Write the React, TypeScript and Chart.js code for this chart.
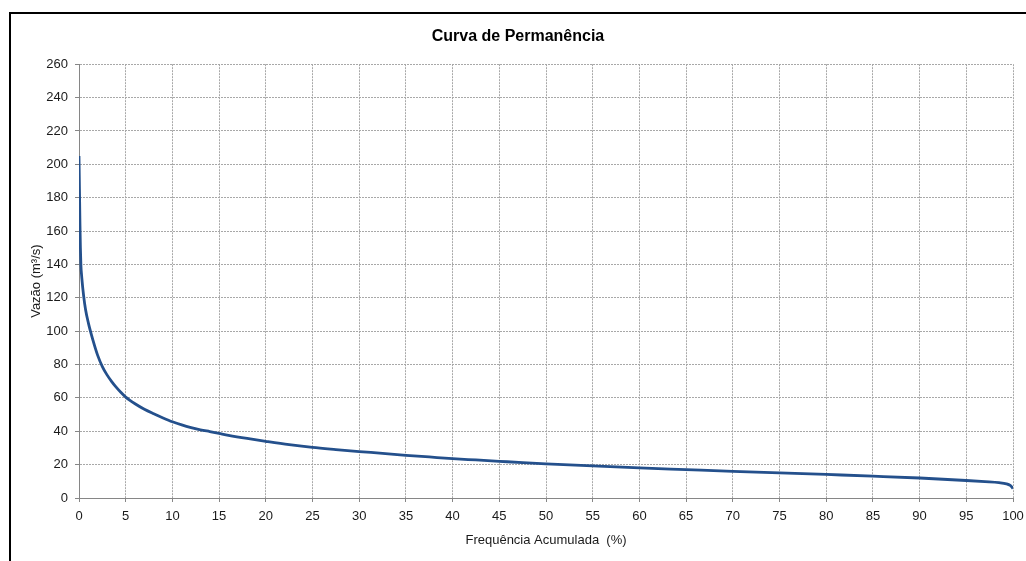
import React, { useEffect, useRef } from "react";
import { Chart, registerables } from "chart.js";

Chart.register(...registerables);

const chartTitle = "Curva de Permanência";
const xAxisTitle = "Frequência Acumulada  (%)";
const yAxisTitle = "Vazão (m³/s)";

// Frequência acumulada (%)
const freqPct = [
  0, 0.05, 0.1, 0.15, 0.2, 0.3, 0.5, 0.7, 1.0, 1.5, 2.0, 2.5, 3.0, 3.5, 4.0, 4.5,
  5.0, 6.0, 7.0, 8.0, 9.0, 10, 11, 12, 13, 14, 15, 16, 18, 20, 22.5, 25, 27.5,
  30, 32.5, 35, 37.5, 40, 42.5, 45, 47.5, 50, 55, 60, 65, 70, 75, 80, 85, 90,
  95, 97, 98.5, 99.3, 99.7, 100,
];

// Vazão (m³/s)
const flowValues = [
  205, 185, 165, 150, 140, 132, 121, 113, 105, 94.5, 85.5, 78.8, 73.8, 69.8, 66.3, 63.2,
  60.5, 56.5, 53.2, 50.5, 48, 45.7, 43.8, 42.2, 40.9, 39.8, 38.7, 37.6, 35.7, 34, 32,
  30.3, 29, 27.8, 26.8, 25.6, 24.6, 23.6, 22.8, 22, 21.2, 20.5, 19.2, 18, 17,
  16, 15.1, 14.1, 13.1, 12, 10.5, 9.8, 9.2, 8.5, 7.5, 5.7,
];

const FONT = "Arial, 'Liberation Sans', sans-serif";

export default function App() {
  const canvasRef = useRef<HTMLCanvasElement | null>(null);

  useEffect(() => {
    if (!canvasRef.current) return;
    const points = freqPct.map((x, i) => ({ x, y: flowValues[i] }));
    const gridColor = "#a8a8a8";
    const axisColor = "#868686";
    const chart = new Chart(canvasRef.current, {
      type: "line",
      data: {
        datasets: [
          {
            data: points,
            borderColor: "#24508c",
            borderWidth: 2.8,
            pointRadius: 0,
            cubicInterpolationMode: "monotone",
            fill: false,
          },
        ],
      },
      options: {
        animation: false,
        responsive: false,
        maintainAspectRatio: false,
        layout: { padding: { left: 12, right: 28, top: 0, bottom: 20 } },
        plugins: {
          legend: { display: false },
          tooltip: { enabled: false },
          title: {
            display: true,
            text: chartTitle,
            color: "#000",
            font: { family: FONT, size: 16, weight: "bold" },
            padding: { top: 13, bottom: 18 },
          },
        },
        scales: {
          x: {
            type: "linear",
            min: 0,
            max: 100,
            ticks: {
              stepSize: 5,
              color: "#1a1a1a",
              font: { family: FONT, size: 13 },
              padding: 7,
              maxRotation: 0,
            },
            grid: {
              color: gridColor,
              tickLength: 4,
              tickColor: axisColor,
              tickBorderDash: [],
            } as any,
            border: { color: axisColor, width: 1, dash: [2, 1] },
            title: {
              display: true,
              text: xAxisTitle,
              color: "#1a1a1a",
              font: { family: FONT, size: 13 },
              padding: { top: 0, bottom: 6 },
            },
            afterFit: (s: any) => {
              s.height = 56;
            },
          },
          y: {
            type: "linear",
            min: 0,
            max: 260,
            ticks: {
              stepSize: 20,
              color: "#1a1a1a",
              font: { family: FONT, size: 13 },
              padding: 7,
            },
            grid: {
              color: gridColor,
              tickLength: 4,
              tickColor: axisColor,
              tickBorderDash: [],
            } as any,
            border: { color: axisColor, width: 1, dash: [2, 1] },
            title: {
              display: true,
              text: yAxisTitle,
              color: "#1a1a1a",
              font: { family: FONT, size: 13 },
              padding: { top: 6, bottom: 0 },
            },
            afterFit: (s: any) => {
              s.width = 56;
            },
          },
        },
      } as any,
    });
    return () => chart.destroy();
  }, []);

  return (
    <div
      style={{
        position: "fixed",
        left: 9,
        top: 12,
        width: 1040,
        height: 600,
        border: "2px solid #000",
        boxSizing: "border-box",
        background: "#fff",
        overflow: "hidden",
      }}
    >
      <canvas
        ref={canvasRef}
        width={1030}
        height={560}
        style={{ position: "absolute", left: 0, top: 0, width: 1030, height: 560 }}
      />
    </div>
  );
}
